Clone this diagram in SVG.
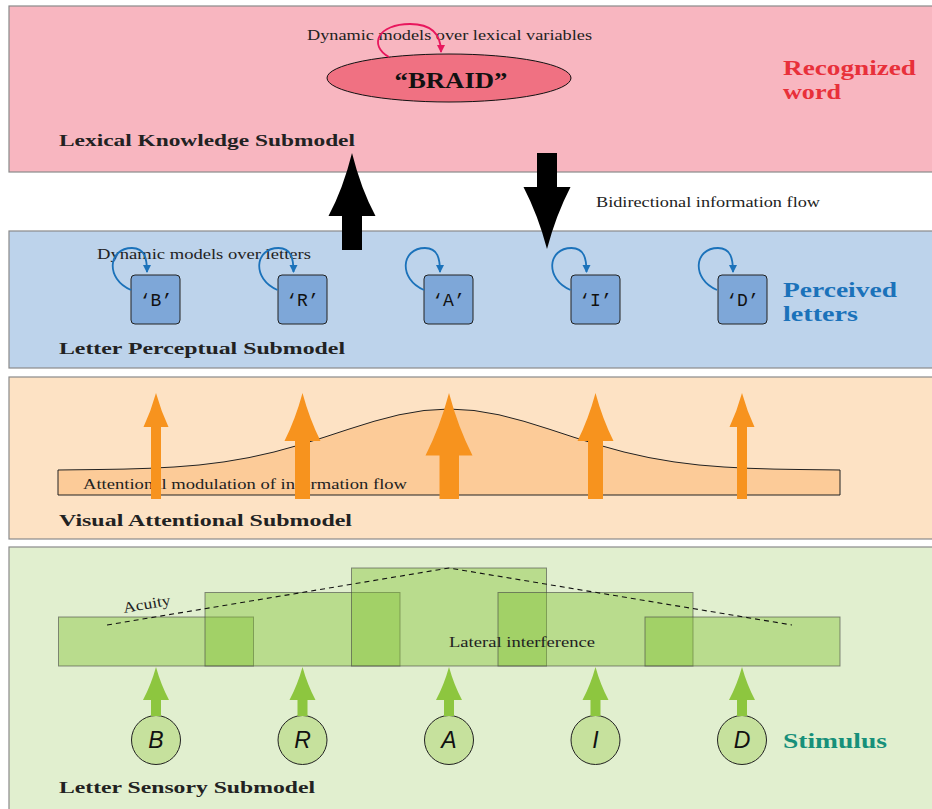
<svg xmlns="http://www.w3.org/2000/svg" width="932" height="809" viewBox="0 0 932 809">
<defs>
<style>
.panel{stroke:#8a8a8a;stroke-width:1.2}
.t{font-family:"Liberation Serif","DejaVu Serif",serif;font-size:15px;fill:#222}
.title{font-family:"Liberation Serif","DejaVu Serif",serif;font-size:17px;font-weight:bold;fill:#222}
.side{font-family:"Liberation Serif","DejaVu Serif",serif;font-size:22px;font-weight:bold}
.box{fill:#7ea7d8;stroke:#222;stroke-width:1}
.mono{font-family:"Liberation Mono","DejaVu Sans Mono",monospace;font-size:18px;fill:#111;text-anchor:middle}
.loopB{fill:none;stroke:#1b72ba;stroke-width:1.8}
.loopP{fill:none;stroke:#e8175d;stroke-width:1.8}
.orange{fill:#f7931e}
.green{fill:#8dc63f}
.grect{fill:#82c232;fill-opacity:0.42;stroke:#444;stroke-opacity:0.6;stroke-width:1}
.circ{fill:#c6e19d;stroke:#222;stroke-width:1}
.sans{font-family:"Liberation Sans","DejaVu Sans",sans-serif;font-style:italic;font-size:23px;fill:#111;text-anchor:middle}
</style>
<marker id="mB" markerWidth="9" markerHeight="9" refX="7" refY="4" orient="auto" markerUnits="userSpaceOnUse"><path d="M0,0 L8,4 L0,8 Z" fill="#1b72ba"/></marker>
<marker id="mP" markerWidth="9" markerHeight="9" refX="7" refY="4" orient="auto" markerUnits="userSpaceOnUse"><path d="M0,0 L8,4 L0,8 Z" fill="#e8175d"/></marker>
</defs>
<rect width="932" height="809" fill="#ffffff"/>

<g id="lexical-panel">
<rect class="panel" x="9" y="6" width="940" height="166" fill="#f8b6c0"/>
<text class="title" x="59" y="146" textLength="296" lengthAdjust="spacingAndGlyphs">Lexical Knowledge Submodel</text>
<text class="side" x="783" y="75" fill="#e8303a" textLength="133" lengthAdjust="spacingAndGlyphs">Recognized</text>
<text class="side" x="783" y="99" fill="#e8303a" textLength="58" lengthAdjust="spacingAndGlyphs">word</text>
</g>
<g id="perceptual-panel">
<rect class="panel" x="9" y="231" width="940" height="137" fill="#bdd3eb"/>
<text class="title" x="59" y="354" textLength="286" lengthAdjust="spacingAndGlyphs">Letter Perceptual Submodel</text>
<text class="side" x="783" y="297" fill="#1b72ba" font-size="21" textLength="114" lengthAdjust="spacingAndGlyphs">Perceived</text>
<text class="side" x="783" y="321" fill="#1b72ba" font-size="21" style="font-size:21px" textLength="75" lengthAdjust="spacingAndGlyphs">letters</text>
</g>
<g id="attention-panel">
<rect class="panel" x="9" y="377" width="940" height="162" fill="#fde2c4"/>
<text class="title" x="59" y="526" textLength="293" lengthAdjust="spacingAndGlyphs">Visual Attentional Submodel</text>
</g>
<g id="sensory-panel">
<rect class="panel" x="9" y="547" width="940" height="280" fill="#e1efcf"/>
<text class="title" x="59" y="793" textLength="256" lengthAdjust="spacingAndGlyphs">Letter Sensory Submodel</text>
<text class="side" x="783" y="748" fill="#17907a" textLength="104" lengthAdjust="spacingAndGlyphs">Stimulus</text>
</g>

<g id="word-node">
<ellipse cx="449" cy="78" rx="122" ry="24" fill="#f07182" stroke="#111" stroke-width="1"/>
<text x="451" y="88" text-anchor="middle" font-family="'Liberation Serif','DejaVu Serif',serif" font-size="24" font-weight="bold" fill="#111" textLength="113" lengthAdjust="spacingAndGlyphs">“BRAID”</text>
<text class="t" x="307" y="40" textLength="285" lengthAdjust="spacingAndGlyphs">Dynamic models over lexical variables</text>
</g>

<g id="attention-curve">
<path d="M58,470 L74,469.8 L99,469.5 L124,469.1 L149,468.3 L174,467 L199,465 L224,461.9 L249,457.6 L274,452 L299,445.1 L324,437.3 L349,429.1 L374,421.3 L399,414.8 L424,410.5 L449,409 L474,410.5 L499,414.8 L524,421.3 L549,429.1 L574,437.3 L599,445.1 L624,452 L649,457.6 L674,461.9 L699,465 L724,467 L749,468.3 L774,469.1 L799,469.5 L824,469.8 L840,470 L840,495 L58,495 Z" fill="#fccb98" stroke="#222" stroke-width="1" stroke-linejoin="round"/>
<text class="t" x="83" y="489" textLength="324" lengthAdjust="spacingAndGlyphs">Attentional modulation of information flow</text>
</g>

<g id="letter-B"><rect class="box" x="131" y="275" width="49" height="49" rx="4"/><text class="mono" x="156" y="306">‘B’</text></g>
<g id="letter-R"><rect class="box" x="278" y="275" width="49" height="49" rx="4"/><text class="mono" x="302.5" y="306">‘R’</text></g>
<g id="letter-A"><rect class="box" x="424" y="275" width="49" height="49" rx="4"/><text class="mono" x="448.5" y="306">‘A’</text></g>
<g id="letter-I"><rect class="box" x="571" y="275" width="49" height="49" rx="4"/><text class="mono" x="595.5" y="306">‘I’</text></g>
<g id="letter-D"><rect class="box" x="718" y="275" width="49" height="49" rx="4"/><text class="mono" x="742.5" y="306">‘D’</text></g>
<text class="t" x="97" y="259" textLength="214" lengthAdjust="spacingAndGlyphs">Dynamic models over letters</text>

<g id="sensory-fields">
<rect class="grect" x="58.5" y="617" width="195" height="49"/>
<rect class="grect" x="205" y="592.5" width="195" height="73.5"/>
<rect class="grect" x="351.5" y="568" width="195" height="98"/>
<rect class="grect" x="498" y="592.5" width="195" height="73.5"/>
<rect class="grect" x="645" y="617" width="195" height="49"/>
<path d="M107,625 L449,568 L792,625" fill="none" stroke="#111" stroke-width="1.1" stroke-dasharray="5,4"/>
<text class="t" x="124" y="613" transform="rotate(-10 124 613)" textLength="48" lengthAdjust="spacingAndGlyphs">Acuity</text>
<text class="t" x="449" y="647" textLength="146" lengthAdjust="spacingAndGlyphs">Lateral interference</text>
</g>

<g id="stim-B"><circle class="circ" cx="156" cy="740" r="24.5"/><text class="sans" x="156" y="748">B</text></g>
<g id="stim-R"><circle class="circ" cx="302.5" cy="740" r="24.5"/><text class="sans" x="302.5" y="748">R</text></g>
<g id="stim-A"><circle class="circ" cx="449" cy="740" r="24.5"/><text class="sans" x="449" y="748">A</text></g>
<g id="stim-I"><circle class="circ" cx="595.5" cy="740" r="24.5"/><text class="sans" x="595.5" y="748">I</text></g>
<g id="stim-D"><circle class="circ" cx="742" cy="740" r="24.5"/><text class="sans" x="742" y="748">D</text></g>

<g id="connectors">
<path class="loopP" d="M389,57 C368,45 378,24 410,24 C433,24 441,36 441,52" marker-end="url(#mP)"/>
<path class="loopB" d="M131,290 C105,279 108,248 132,248 C145,248 147,259 147,272" marker-end="url(#mB)"/>
<path class="loopB" d="M277.5,290 C251.5,279 254.5,248 278.5,248 C291.5,248 293.5,259 293.5,272" marker-end="url(#mB)"/>
<path class="loopB" d="M424,290 C398,279 401,248 425,248 C438,248 440,259 440,272" marker-end="url(#mB)"/>
<path class="loopB" d="M570.5,290 C544.5,279 547.5,248 571.5,248 C584.5,248 586.5,259 586.5,272" marker-end="url(#mB)"/>
<path class="loopB" d="M717,290 C691,279 694,248 718,248 C731,248 733,259 733,272" marker-end="url(#mB)"/>

<path d="M342,250 V216 H328.5 Q343,189 352,153 Q361,189 375.5,216 H362 V250 Z" fill="#000"/>
<path d="M537,153 V187 H523.5 Q538,215 547,249 Q556,215 570.5,187 H557 V153 Z" fill="#000"/>
<text class="t" x="596" y="207" textLength="224" lengthAdjust="spacingAndGlyphs">Bidirectional information flow</text>

<path class="orange" d="M151,499 V427 H143.5 Q151,411 156,393 Q161,411 168.5,427 H161 V499 Z"/>
<path class="orange" d="M295,499 V441 H284.5 Q295.5,419 302.5,393 Q309.5,419 320.5,441 H310 V499 Z"/>
<path class="orange" d="M439.5,499 V455.5 H425.5 Q440,427 449,393 Q458,427 472.5,455.5 H459 V499 Z"/>
<path class="orange" d="M588,499 V441 H577.5 Q588.5,419 595.5,393 Q602.5,419 613.5,441 H603 V499 Z"/>
<path class="orange" d="M737,499 V427 H729.5 Q737,411 742,393 Q747,411 754.5,427 H747 V499 Z"/>

<path class="green" d="M151,716 V700 H143 Q151,685 156,667 Q161,685 169,700 H161 V716 Z"/>
<path class="green" d="M297.5,716 V700 H289.5 Q297.5,685 302.5,667 Q307.5,685 315.5,700 H307.5 V716 Z"/>
<path class="green" d="M444,716 V700 H436 Q444,685 449,667 Q454,685 462,700 H454 V716 Z"/>
<path class="green" d="M590.5,716 V700 H582.5 Q590.5,685 595.5,667 Q600.5,685 608.5,700 H600.5 V716 Z"/>
<path class="green" d="M737,716 V700 H729 Q737,685 742,667 Q747,685 755,700 H747 V716 Z"/>
</g>
</svg>
